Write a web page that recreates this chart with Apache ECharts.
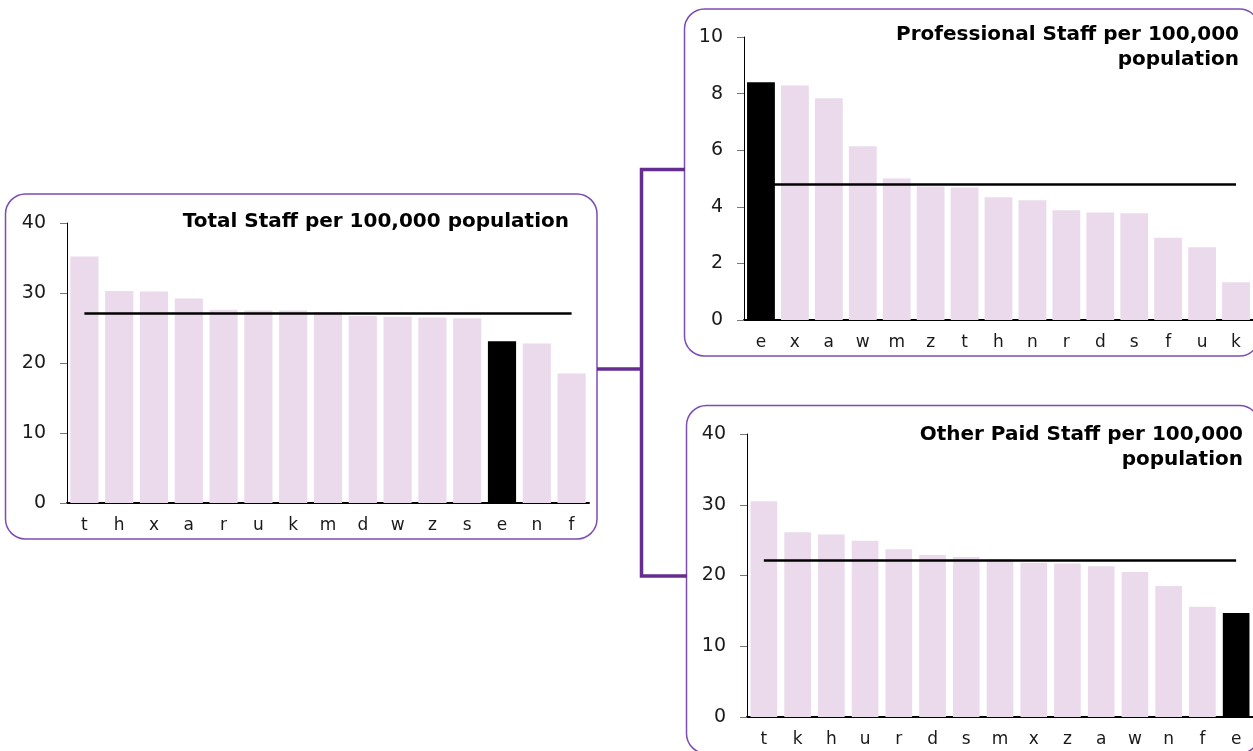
<!DOCTYPE html>
<html>
<head>
<meta charset="utf-8">
<script src="https://cdn.jsdelivr.net/npm/echarts@6/dist/echarts.min.js"></script>
<style>
html,body{margin:0;padding:0;background:#fff;}
#chart{width:1253px;height:751px;}
</style>
</head>
<body>
<div id="chart"></div>
<script>
// ---- data ----
const highlightCat = 'e';

const totalTitle = 'Total Staff per 100,000 population';
const totalCats = ['t','h','x','a','r','u','k','m','d','w','z','s','e','n','f'];
const totalVals = [35.2,30.3,30.2,29.2,27.6,27.5,27.5,27.3,26.7,26.6,26.5,26.4,23.1,22.8,18.5];
const totalAvg = 27.1;
const totalTicks = {min:0, max:40, interval:10};

const profTitle = 'Professional Staff per 100,000\npopulation';
const profCats = ['e','x','a','w','m','z','t','h','n','r','d','s','f','u','k'];
const profVals = [8.4,8.29,7.84,6.14,5.0,4.72,4.68,4.34,4.23,3.88,3.8,3.77,2.91,2.57,1.33];
const profAvg = 4.79;
const profTicks = {min:0, max:10, interval:2};

const otherTitle = 'Other Paid Staff per 100,000\npopulation';
const otherCats = ['t','k','h','u','r','d','s','m','x','z','a','w','n','f','e'];
const otherVals = [30.5,26.1,25.8,24.9,23.7,22.9,22.6,22.3,21.8,21.7,21.3,20.5,18.5,15.6,14.7];
const otherAvg = 22.2;
const otherTicks = {min:0, max:40, interval:10};

// ---- styling ----
const FONT = '"DejaVu Sans", Verdana, sans-serif';
const PINK = '#eadaeb';
const BOX = '#7b4db4';
const CONN = '#662d91';

const panels = [
  {cats: totalCats, vals: totalVals, avg: totalAvg, ticks: totalTicks,
   grid: {left: 67, top: 223, width: 522, height: 280}, gap: '19%'},
  {cats: profCats, vals: profVals, avg: profAvg, ticks: profTicks,
   grid: {left: 744, top: 37, width: 514, height: 283}, gap: '18%'},
  {cats: otherCats, vals: otherVals, avg: otherAvg, ticks: otherTicks,
   grid: {left: 747, top: 434, width: 507, height: 283}, gap: '21%'}
];

const grid = [], xAxis = [], yAxis = [], series = [];
panels.forEach((p, i) => {
  grid.push(Object.assign({containLabel: false}, p.grid));
  xAxis.push({
    type: 'category', gridIndex: i, data: p.cats,
    axisLine: {show: true, lineStyle: {color: '#000', width: 2}},
    axisTick: {show: false},
    axisLabel: {color: '#1a1a1a', fontFamily: FONT, fontSize: 17, margin: 14},
    splitLine: {show: false}
  });
  yAxis.push({
    type: 'value', gridIndex: i, min: p.ticks.min, max: p.ticks.max, interval: p.ticks.interval,
    axisLine: {show: true, lineStyle: {color: '#000', width: 1}},
    axisTick: {show: true, length: 7, lineStyle: {color: '#777', width: 1}},
    axisLabel: {color: '#1a1a1a', fontFamily: FONT, fontSize: 19, margin: 21},
    splitLine: {show: false}
  });
  series.push({
    type: 'bar', xAxisIndex: i, yAxisIndex: i, z: 2,
    data: p.vals.map((v, k) => p.cats[k] === highlightCat ? '-' : v),
    itemStyle: {color: PINK},
    barGap: '-100%', barCategoryGap: p.gap,
    silent: true, animation: false,
    markLine: {
      silent: true, symbol: 'none', z: 3, animation: false,
      label: {show: false},
      lineStyle: {color: '#000', width: 2.5, type: 'solid'},
      data: [[{coord: [p.cats[0], p.avg]}, {coord: [p.cats[p.cats.length - 1], p.avg]}]]
    }
  });
  series.push({
    type: 'bar', xAxisIndex: i, yAxisIndex: i, z: 4,
    data: p.vals.map((v, k) => p.cats[k] === highlightCat ? v : '-'),
    itemStyle: {color: '#000'},
    barGap: '-100%', barCategoryGap: p.gap,
    silent: true, animation: false
  });
});

const graphic = [
  // boxes
  {type: 'rect', z: 0, silent: true, shape: {x: 5.5, y: 194, width: 591.5, height: 345, r: 20},
   style: {fill: 'none', stroke: BOX, lineWidth: 1.5}},
  {type: 'rect', z: 0, silent: true, shape: {x: 684.5, y: 9, width: 575, height: 347, r: 20},
   style: {fill: 'none', stroke: BOX, lineWidth: 1.5}},
  {type: 'rect', z: 0, silent: true, shape: {x: 686.5, y: 405.5, width: 573, height: 348, r: 20},
   style: {fill: 'none', stroke: BOX, lineWidth: 1.5}},
  // connectors
  {type: 'polyline', z: 0, silent: true,
   shape: {points: [[685, 169.5], [641.5, 169.5], [641.5, 576], [687, 576]]},
   style: {fill: 'none', stroke: CONN, lineWidth: 3.5}},
  {type: 'line', z: 0, silent: true, shape: {x1: 597, y1: 369, x2: 641.5, y2: 369},
   style: {stroke: CONN, lineWidth: 3.5}},
  // titles
  {type: 'text', z: 10, silent: true, x: 569, y: 222,
   style: {text: totalTitle, fill: '#000', font: 'bold 20px ' + FONT, align: 'right', verticalAlign: 'middle'}},
  {type: 'text', z: 10, silent: true, x: 1239, y: 22.5,
   style: {text: profTitle, fill: '#000', font: 'bold 20px ' + FONT, align: 'right', verticalAlign: 'top', lineHeight: 25}},
  {type: 'text', z: 10, silent: true, x: 1243, y: 422.5,
   style: {text: otherTitle, fill: '#000', font: 'bold 20px ' + FONT, align: 'right', verticalAlign: 'top', lineHeight: 25}}
];

const chart = echarts.init(document.getElementById('chart'), null, {renderer: 'canvas'});
chart.setOption({
  animation: false,
  backgroundColor: '#fff',
  grid, xAxis, yAxis, series, graphic
});
</script>
</body>
</html>
